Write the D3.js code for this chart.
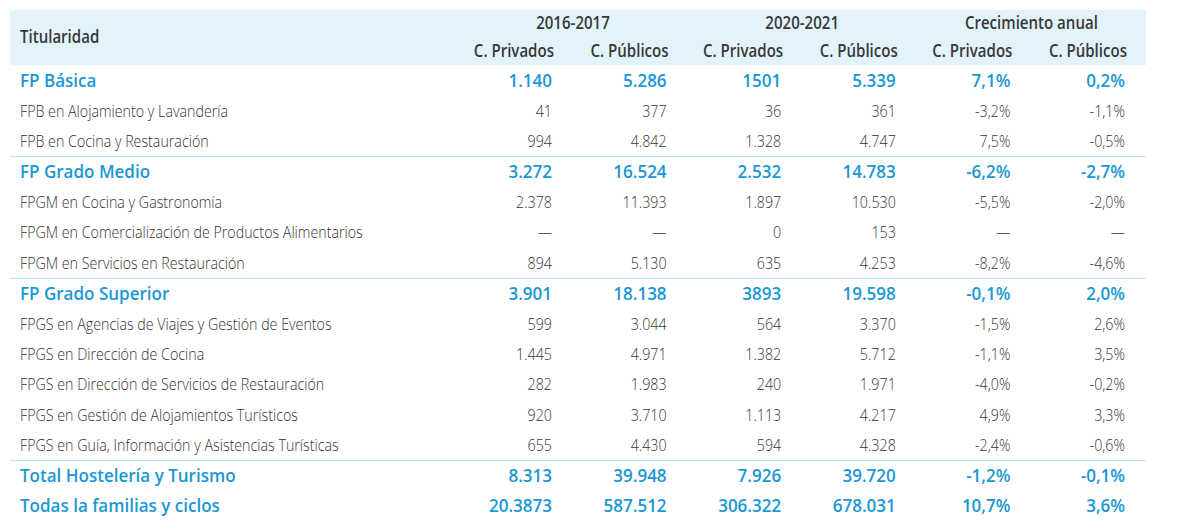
<!DOCTYPE html>
<html><head><meta charset="utf-8">
<script src="https://cdn.jsdelivr.net/npm/d3@7/dist/d3.min.js"></script>
<style>
html,body{margin:0;padding:0;background:#fff;}
svg{display:block;}
text{font-family:"Open Sans",sans-serif;}
</style></head>
<body>
<svg id="chart" width="1180" height="531"></svg>
<script>
const groupHeaders = ["2016-2017", "2020-2021", "Crecimiento anual"];
const subHeaders = ["C. Privados", "C. Públicos", "C. Privados", "C. Públicos", "C. Privados", "C. Públicos"];
const firstHeader = "Titularidad";

const categories = [
  "FP Básica",
  "FPB en Alojamiento y Lavandería",
  "FPB en Cocina y Restauración",
  "FP Grado Medio",
  "FPGM en Cocina y Gastronomía",
  "FPGM en Comercialización de Productos Alimentarios",
  "FPGM en Servicios en Restauración",
  "FP Grado Superior",
  "FPGS en Agencias de Viajes y Gestión de Eventos",
  "FPGS en Dirección de Cocina",
  "FPGS en Dirección de Servicios de Restauración",
  "FPGS en Gestión de Alojamientos Turísticos",
  "FPGS en Guía, Información y Asistencias Turísticas",
  "Total Hostelería y Turismo",
  "Todas la familias y ciclos"
];
const rowTypes = ["group","item","item","group","item","item","item","group","item","item","item","item","item","total","total"];

const privados1617 = ["1.140","41","994","3.272","2.378","—","894","3.901","599","1.445","282","920","655","8.313","20.3873"];
const publicos1617 = ["5.286","377","4.842","16.524","11.393","—","5.130","18.138","3.044","4.971","1.983","3.710","4.430","39.948","587.512"];
const privados2021 = ["1501","36","1.328","2.532","1.897","0","635","3893","564","1.382","240","1.113","594","7.926","306.322"];
const publicos2021 = ["5.339","361","4.747","14.783","10.530","153","4.253","19.598","3.370","5.712","1.971","4.217","4.328","39.720","678.031"];
const crecPrivados = ["7,1%","-3,2%","7,5%","-6,2%","-5,5%","—","-8,2%","-0,1%","-1,5%","-1,1%","-4,0%","4,9%","-2,4%","-1,2%","10,7%"];
const crecPublicos = ["0,2%","-1,1%","-0,5%","-2,7%","-2,0%","—","-4,6%","2,0%","2,6%","3,5%","-0,2%","3,3%","-0,6%","-0,1%","3,6%"];

const columns = [privados1617, publicos1617, privados2021, publicos2021, crecPrivados, crecPublicos];

const svg = d3.select("#chart");
const BLUE = "#1a98d5", TEXT = "#333333", HEAD = "#383838";
const left = 10, right = 1146, headTop = 10, headBottom = 65;

const x = d3.scalePoint().domain(d3.range(6)).range([552, 1125]);
const y = d3.scaleBand().domain(d3.range(categories.length)).range([headBottom, 521]);

// header background
svg.append("rect").attr("x", left).attr("y", headTop).attr("width", right - left).attr("height", headBottom - headTop).attr("fill", "#e3f3fc");

// separators
const sepRows = rowTypes.map((t, i) => i).filter(i => i > 0 && rowTypes[i] !== "item" && rowTypes[i-1] === "item");
svg.selectAll("line.sep").data(sepRows).join("line").attr("class", "sep")
  .attr("x1", left).attr("x2", right)
  .attr("y1", d => y(d) + 0.5).attr("y2", d => y(d) + 0.5)
  .attr("stroke", "#bfe5f6").attr("stroke-width", 1.2);

const allText = [];
function addText(sel, cls) { sel.each(function(){ allText.push({node:this, cls}); }); return sel; }

const FS_HEAD = 17.5, FS_BOLD = 17.5, FS_LIGHT = 16.5;

// header
addText(svg.append("text").attr("x", 20).attr("y", 37).attr("dy", "0.35em")
  .attr("fill", HEAD).attr("font-size", FS_HEAD).attr("font-weight", 600).text(firstHeader), "head");

addText(svg.selectAll("text.gh").data(groupHeaders).join("text").attr("class", "gh")
  .attr("x", (d, i) => x(i*2) + 21).attr("y", 23).attr("dy", "0.35em").attr("text-anchor", "middle")
  .attr("fill", HEAD).attr("font-size", FS_HEAD).attr("font-weight", 600).text(d => d), "head");

addText(svg.selectAll("text.sh").data(subHeaders).join("text").attr("class", "sh")
  .attr("x", (d, i) => x(i) + 2).attr("y", 51).attr("dy", "0.35em").attr("text-anchor", "end")
  .attr("fill", HEAD).attr("font-size", FS_HEAD).attr("font-weight", 600).text(d => d), "head");

// rows
const rows = svg.selectAll("g.row").data(categories).join("g").attr("class", "row")
  .attr("transform", (d, i) => `translate(0,${y(i) + y.bandwidth()/2 + 0.5})`);

rows.each(function(cat, i) {
  const g = d3.select(this);
  const bold = rowTypes[i] !== "item";
  const fill = bold ? BLUE : TEXT;
  const fs = bold ? FS_BOLD : FS_LIGHT;
  const fw = bold ? 600 : 300;
  addText(g.append("text").attr("x", 20).attr("y", 0).attr("dy", "0.35em")
    .attr("fill", fill).attr("font-size", fs).attr("font-weight", fw).text(cat), bold ? "bold" : "light");
  columns.forEach((col, c) => {
    addText(g.append("text").attr("x", x(c)).attr("y", 0).attr("dy", "0.35em").attr("text-anchor", "end")
      .attr("fill", fill).attr("font-size", fs).attr("font-weight", fw).text(col[i]), bold ? "bold" : "light");
  });
});

// condense glyphs horizontally to match the narrow typeface
function widthOf(str, fs, fw) {
  const t = svg.append("text").attr("font-size", fs).attr("font-weight", fw).text(str);
  const w = t.node().getComputedTextLength(); t.remove(); return w;
}
const scales = {
  light: 319 / widthOf(categories[12], FS_LIGHT, 300),
  bold: 200 / widthOf(categories[14], FS_BOLD, 600),
  head: 133 / widthOf(groupHeaders[2], FS_HEAD, 600)
};
allText.forEach(({node, cls}) => {
  const s = scales[cls];
  const t = d3.select(node);
  const ax = +t.attr("x");
  t.attr("transform", `translate(${ax},0) scale(${s},1) translate(${-ax},0)`);
});
</script>
</body></html>
